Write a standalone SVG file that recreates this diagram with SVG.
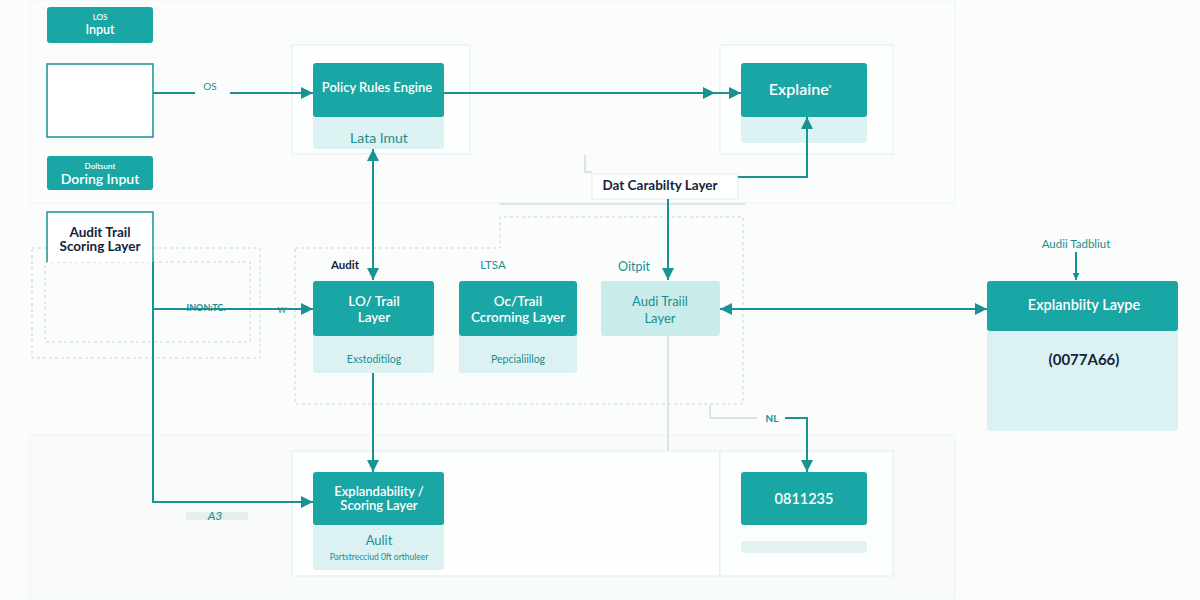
<svg xmlns="http://www.w3.org/2000/svg" width="1200" height="600" viewBox="0 0 1200 600">
<defs>
<style>
.bg{fill:#fbfdfd}
.panel{stroke:#edf3f3;stroke-width:1}
.frame{fill:#fdfefe;stroke:#e3ecec;stroke-width:1}
.teal{fill:#1aa6a4}
.pane{fill:#dcf2f2}
.lightbox{fill:#c9ecea}
.dash{fill:none;stroke:#c9d3d3;stroke-width:1;stroke-dasharray:3 3}
.gray{fill:none;stroke:#d3dcdc;stroke-width:1.5}
.conn{fill:none;stroke:#1a9294;stroke-width:2}
.w{font-family:Lato,"Open Sans",sans-serif;fill:#ffffff;font-weight:600;text-anchor:middle}
.t{font-family:Lato,"Open Sans",sans-serif;fill:#188e8e;text-anchor:middle}
.d{font-family:Lato,"Open Sans",sans-serif;fill:#14253a;font-weight:700;text-anchor:middle}
</style>
<marker id="ah" viewBox="0 0 10 10" refX="10" refY="5" markerWidth="7" markerHeight="7" orient="auto-start-reverse" markerUnits="userSpaceOnUse">
<path d="M0,0 L10,5 L0,10 z" fill="#1a9294"/>
</marker>
<marker id="ahL" viewBox="0 0 10 10" refX="10" refY="5" markerWidth="12" markerHeight="12" orient="auto-start-reverse" markerUnits="userSpaceOnUse">
<path d="M0,0 L10,5 L0,10 z" fill="#1a9294"/>
</marker>
</defs>
<rect class="bg" x="0" y="0" width="1200" height="600"/>
<rect class="panel" x="30" y="0" width="925" height="203" fill="#fbfdfd"/>
<rect class="panel" x="30" y="435" width="925" height="165" fill="#f9fbfb"/>
<rect class="frame" x="292" y="45" width="178" height="109"/>
<rect class="frame" x="720" y="45" width="173" height="109"/>
<rect class="frame" x="292" y="451" width="428" height="125"/>
<rect class="frame" x="720" y="451" width="173" height="125"/>
<rect class="dash" x="32" y="248" width="228" height="110"/>
<rect class="dash" x="45" y="262" width="205" height="80"/>
<path class="dash" d="M295,248 H500 V217 H743 V404 H295 Z"/>
<path class="gray" d="M500,204 H745" stroke="#e3ecec"/>
<path class="gray" d="M585,155 V172 H592"/>
<path class="gray" d="M710,405 V418 H757"/>
<path class="gray" d="M668,336 V451"/>

<g id="los-input">
<rect class="teal" x="47" y="7" width="106" height="36" rx="3"/>
<text class="w" x="100" y="20" font-size="8">LOS</text>
<text class="w" x="100" y="34" font-size="12.5">Input</text>
</g>
<g id="empty-box">
<rect x="47" y="64" width="106" height="73" fill="#ffffff" stroke="#1a9294" stroke-width="1.5"/>
</g>
<g id="doring-input">
<rect class="teal" x="47" y="156" width="106" height="34" rx="3"/>
<text class="w" x="100" y="169" font-size="8">Doltsunt</text>
<text class="w" x="100" y="184" font-size="14">Doring Input</text>
</g>
<g id="audit-trail-scoring">
<path d="M47,262 V212 H153 V262" fill="#ffffff" stroke="#1a9294" stroke-width="1.5"/>
<text class="d" x="100" y="237" font-size="13.5">Audit Trail</text>
<text class="d" x="100" y="251" font-size="13.5">Scoring Layer</text>
</g>
<g id="policy-rules-engine">
<rect class="pane" x="313" y="112" width="131" height="37" rx="3"/>
<rect class="teal" x="313" y="63" width="131" height="54" rx="3"/>
<text class="w" x="377" y="92" font-size="13">Policy Rules Engine</text>
<text class="t" x="379" y="143" font-size="14" font-family="Liberation Serif,serif">Lata Imut</text>
</g>
<g id="explainer">
<rect class="pane" x="741" y="112" width="126" height="31" rx="3"/>
<rect class="teal" x="741" y="63" width="126" height="54" rx="3"/>
<text class="w" x="800" y="95" font-size="16">Explaine<tspan font-size="9" dy="-3">ᵛ</tspan></text>
</g>
<g id="dat-carability">
<rect x="592" y="174" width="146" height="25" fill="#ffffff" stroke="#e3ecec"/>
<text class="d" x="660" y="190" font-size="13.5" font-weight="600">Dat Carabilty Layer</text>
</g>
<g id="labels">
<text class="d" x="345" y="269" font-size="11.5">Audit</text>
<text class="t" x="493" y="269" font-size="11.5">LTSA</text>
<text class="t" x="634" y="271" font-size="12.5">Oitpit</text>
</g>
<g id="lo-trail">
<rect class="pane" x="313" y="330" width="121" height="43" rx="3"/>
<rect class="teal" x="313" y="281" width="121" height="55" rx="3"/>
<text class="w" x="374" y="306" font-size="13.5" font-weight="400">LO/ Trail</text>
<text class="w" x="374" y="322" font-size="13.5" font-weight="400">Layer</text>
<text class="t" x="374" y="363" font-size="10.5">Exstoditilog</text>
</g>
<g id="oc-trail">
<rect class="pane" x="459" y="330" width="118" height="43" rx="3"/>
<rect class="teal" x="459" y="281" width="118" height="55" rx="3"/>
<text class="w" x="518" y="306" font-size="13.5" font-weight="400">Oc/Trail</text>
<text class="w" x="518" y="322" font-size="13.5" font-weight="400">Ccrorning Layer</text>
<text class="t" x="518" y="363" font-size="10.5">Pepcialiillog</text>
</g>
<g id="audi-traiil">
<rect class="lightbox" x="601" y="281" width="119" height="55" rx="3"/>
<text class="t" x="660" y="306" font-size="13">Audi Traiil</text>
<text class="t" x="660" y="323" font-size="13">Layer</text>
</g>
<g id="explandability-scoring">
<rect class="pane" x="313" y="518" width="131" height="52" rx="3"/>
<rect class="teal" x="313" y="472" width="131" height="53" rx="3"/>
<text class="w" x="379" y="496" font-size="13">Explandability /</text>
<text class="w" x="379" y="510" font-size="13">Scoring Layer</text>
<text class="t" x="379" y="545" font-size="13" font-family="Liberation Serif,serif">Aulit</text>
<text class="t" x="379" y="560" font-size="8.5">Partstrecciud 0ft orthuleer</text>
</g>
<g id="n0811235">
<rect x="741" y="541" width="126" height="12" rx="3" fill="#e2f3f2"/>
<rect class="teal" x="741" y="472" width="126" height="53" rx="3"/>
<text class="w" x="804" y="504" font-size="14.5" font-weight="700">0811235</text>
</g>
<g id="explanbility-layper">
<text class="t" x="1076" y="248" font-size="11.5">Audii Tadbliut</text>
<rect class="pane" x="987" y="325" width="191" height="106" rx="3"/>
<rect class="teal" x="987" y="281" width="191" height="50" rx="3"/>
<text class="w" x="1084" y="310" font-size="14.5">Explanbiity Laype</text>
<text class="d" x="1084" y="365" font-size="15" font-weight="500">(0077A66)</text>
</g>

<g id="connectors">
<path class="conn" d="M153,93 H195 M230,93 H313" marker-end="url(#ahL)"/>
<text class="t" x="210" y="90" font-size="10">OS</text>
<path class="conn" d="M444,93 H741" marker-end="url(#ahL)"/>
<path d="M703,87 L715,93 L703,99 z" fill="#1a9294"/>
<path class="conn" d="M373,149 V280" marker-start="url(#ahL)" marker-end="url(#ahL)"/>
<path class="conn" d="M738,177 H807 V117" marker-end="url(#ahL)"/>
<path class="conn" d="M668,199 V280" marker-end="url(#ahL)"/>
<path class="conn" d="M153,262 V502 H313" marker-end="url(#ahL)"/>
<path class="conn" d="M153,309 H313" marker-end="url(#ahL)"/>
<text class="t" x="206" y="311" font-size="9" font-weight="700">INON:TC.</text>
<text class="t" x="282" y="313" font-size="8">W</text>
<rect x="186" y="512" width="62" height="8" fill="#e4efef"/>
<text class="t" x="215" y="520" font-size="12" font-style="italic">A3</text>
<path class="conn" d="M373,373 V472" marker-end="url(#ahL)"/>
<path class="conn" d="M720,309 H987" marker-start="url(#ahL)" marker-end="url(#ahL)"/>
<path class="conn" d="M785,418 H807 V472" marker-end="url(#ahL)"/>
<text class="t" x="772" y="422" font-size="10" font-weight="700">NL</text>
<path class="conn" d="M1076,252 V280" stroke-width="1.5" marker-end="url(#ah)"/>
</g>
</svg>
